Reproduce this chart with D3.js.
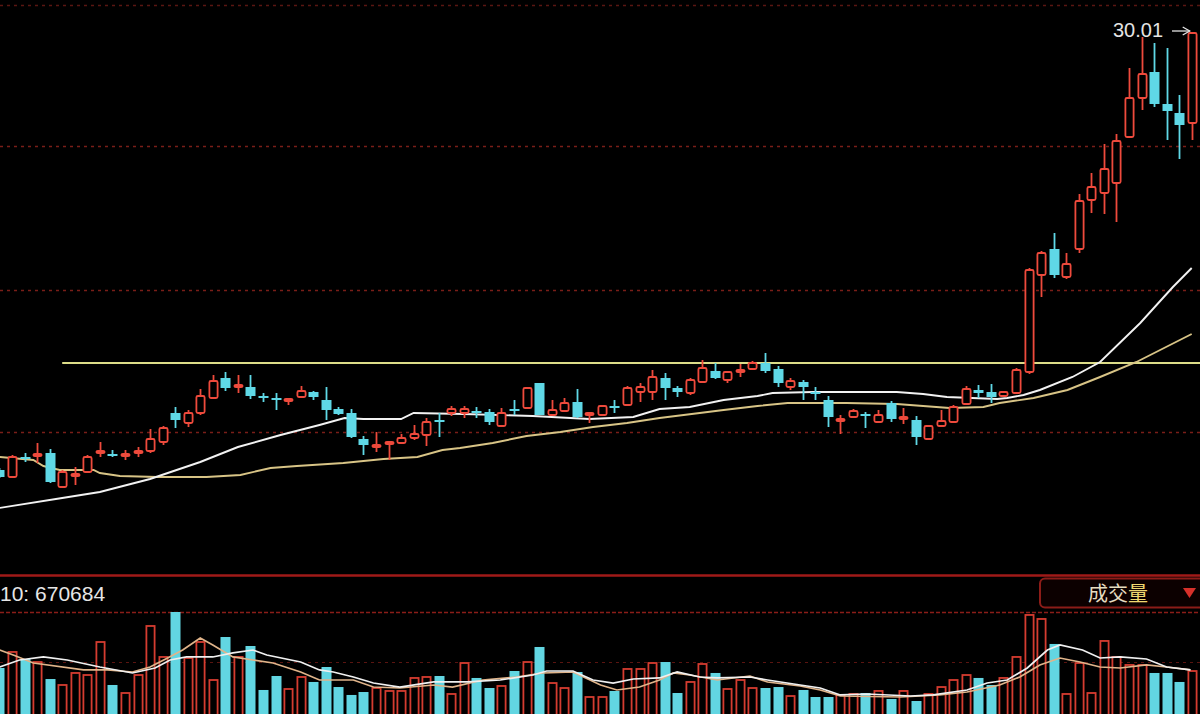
<!DOCTYPE html>
<html><head><meta charset="utf-8">
<script src="https://cdn.jsdelivr.net/npm/d3@7"></script>
<style>html,body{margin:0;padding:0;background:#000;overflow:hidden}</style>
</head><body>
<svg id="c" width="1200" height="714"></svg>
<script>
// candle index -1 .. 94
const firstIndex = -1;
const openP = [21.25,
 21.11,21.51,21.55,21.59,20.91,21.15,21.21,21.61,21.57,21.55,
 21.61,21.63,21.81,22.39,22.19,22.39,22.69,23.09,22.93,22.91,
 22.73,22.69,22.63,22.71,22.81,22.65,22.47,22.39,21.87,21.73,
 21.77,21.79,21.89,21.95,22.25,22.39,22.39,22.43,22.41,22.13,
 22.47,22.49,22.99,22.35,22.43,22.61,22.35,22.35,22.53,22.55,
 22.81,22.81,23.09,22.89,22.79,23.01,23.23,23.05,23.21,23.27,
 23.39,23.27,22.91,23.01,22.81,22.65,22.23,22.31,22.37,22.21,
 22.59,22.27,22.25,21.87,22.13,22.21,22.57,22.85,22.81,22.73,
 22.79,23.21,25.15,25.67,25.11,25.67,26.65,26.79,26.99,27.91,
 28.69,29.21,28.57,28.39,28.19];
const highP = [21.29,
 21.55,21.59,21.79,21.67,21.25,21.31,21.55,21.81,21.65,21.65,
 21.71,22.07,22.13,22.51,22.45,22.87,23.15,23.21,23.15,23.15,
 22.79,22.79,22.67,22.93,22.83,22.91,22.51,22.47,21.93,22.01,
 21.81,21.97,22.15,22.29,22.39,22.53,22.53,22.51,22.47,22.49,
 22.65,22.91,22.99,22.65,22.69,22.87,22.39,22.55,22.65,22.93,
 22.99,23.25,23.19,22.93,23.09,23.45,23.39,23.23,23.37,23.43,
 23.59,23.33,23.09,23.05,22.91,22.73,22.35,22.47,22.41,22.45,
 22.63,22.49,22.33,22.15,22.45,22.55,22.93,22.95,22.97,22.83,
 23.29,25.29,25.63,25.99,25.59,26.77,27.19,27.77,27.97,29.29,
 29.91,29.79,29.69,28.75,30.01];
const lowP = [21.09,
 21.09,21.41,21.39,20.99,20.89,20.95,21.19,21.51,21.51,21.45,
 21.51,21.59,21.75,22.09,22.11,22.35,22.67,22.83,22.79,22.67,
 22.61,22.45,22.55,22.69,22.65,22.25,22.35,21.89,21.55,21.61,
 21.45,21.77,21.85,21.73,21.91,22.33,22.29,22.29,22.15,22.11,
 22.35,22.47,22.35,22.33,22.41,22.29,22.19,22.33,22.39,22.53,
 22.61,22.65,22.65,22.71,22.75,22.99,23.07,22.99,23.11,23.25,
 23.19,22.91,22.85,22.65,22.65,22.11,21.97,22.29,22.09,22.19,
 22.21,22.17,21.75,21.85,22.11,22.19,22.55,22.69,22.59,22.71,
 22.77,23.17,24.71,25.09,25.07,25.59,26.39,26.37,26.21,27.89,
 28.45,28.51,27.85,27.47,27.85];
const closeP = [21.11,
 21.51,21.47,21.57,21.01,21.21,21.17,21.51,21.63,21.55,21.57,
 21.63,21.87,22.09,22.25,22.39,22.73,23.03,22.89,22.95,22.73,
 22.69,22.65,22.67,22.83,22.71,22.45,22.37,21.91,21.75,21.75,
 21.81,21.89,21.97,22.21,22.23,22.47,22.47,22.39,22.21,22.39,
 22.45,22.89,22.35,22.45,22.59,22.31,22.39,22.53,22.49,22.89,
 22.91,23.11,22.89,22.81,23.05,23.29,23.09,23.21,23.25,23.39,
 23.23,22.99,23.03,22.91,22.77,22.31,22.27,22.43,22.33,22.35,
 22.27,22.31,21.91,22.13,22.23,22.51,22.87,22.79,22.71,22.81,
 23.25,25.25,25.59,25.15,25.37,26.63,26.91,27.27,27.83,28.69,
 29.17,28.57,28.43,28.15,29.99];
const volume = [701000,
 945000,838000,792000,533000,442000,625000,594000,1097000,442000,320000,
 594000,1341000,869000,1554000,853000,1097000,518000,1173000,869000,1036000,
 366000,579000,381000,564000,488000,716000,411000,290000,335000,396000,
 351000,351000,549000,564000,579000,305000,777000,549000,396000,427000,
 655000,792000,1021000,472000,396000,640000,259000,259000,351000,686000,
 686000,777000,792000,320000,488000,762000,625000,381000,518000,396000,
 396000,411000,274000,366000,259000,259000,290000,305000,320000,351000,
 229000,351000,198000,305000,411000,518000,594000,549000,442000,549000,
 869000,1509000,1448000,1067000,305000,777000,320000,1113000,869000,747000,
 747000,625000,625000,488000,655000];

// moving averages: [candle index, value]
const priceMaWhite = [[-1,20.49],[4,20.69],[7,20.81],[11,21.07],[15,21.41],[18,21.71],[21.4,21.95],[24.5,22.15],[26.5,22.29],[28,22.27],[31,22.27],[32,22.39],[36,22.37],[41.5,22.33],[46,22.27],[49.5,22.31],[51.6,22.47],[54,22.51],[56.7,22.65],[59.4,22.73],[60.6,22.79],[63.8,22.81],[70.5,22.81],[72.6,22.77],[74.5,22.71],[78.5,22.67],[79.3,22.69],[80.6,22.75],[81.9,22.85],[84.5,23.11],[86.7,23.41],[89.9,24.19],[92.5,24.91],[94,25.29]];
const priceMaTan = [[-1,21.51],[1.7,21.45],[2.5,21.33],[3.8,21.25],[6.5,21.25],[7,21.19],[8.6,21.13],[11.6,21.11],[15.5,21.11],[18.2,21.15],[20.6,21.29],[22.7,21.33],[26.4,21.39],[29.6,21.47],[32.3,21.51],[34.3,21.65],[35.7,21.69],[38.3,21.79],[41,21.93],[43.7,22.01],[46.3,22.11],[49,22.19],[51.6,22.29],[54.8,22.39],[56.7,22.45],[59.4,22.53],[61.8,22.59],[66.5,22.59],[70.5,22.57],[72.6,22.53],[74.7,22.49],[77.4,22.51],[78.7,22.59],[81.4,22.69],[84.1,22.85],[86.7,23.11],[89.6,23.41],[94,23.97]];
const volMaWhite = [[-1,716000],[0.6,823000],[2.5,869000],[4.4,823000],[7,716000],[9.6,625000],[11.4,701000],[12.6,823000],[13.9,869000],[16,869000],[17.6,930000],[19.2,975000],[20.3,899000],[23,792000],[24.5,671000],[25.6,640000],[27.2,564000],[28.8,472000],[30.9,411000],[33.6,488000],[36.3,488000],[38.9,518000],[41.5,594000],[42.6,655000],[44.7,655000],[46.3,518000],[47.9,472000],[49.5,533000],[51.6,549000],[53,640000],[54.8,564000],[56.2,549000],[58.8,564000],[60.2,518000],[62.8,442000],[64.4,396000],[66,290000],[68.1,305000],[71.6,274000],[73.4,290000],[76.1,366000],[77.7,472000],[79.3,518000],[80.9,701000],[82.5,975000],[83.5,1052000],[85.3,975000],[86.7,853000],[88.3,869000],[90.4,838000],[92,716000],[93.9,671000]];
const volMaTan = [[-1,975000],[0.1,899000],[1.7,777000],[5.7,671000],[7.6,671000],[9.6,640000],[11,716000],[12.4,853000],[13.6,975000],[15,1158000],[16,1052000],[17.6,869000],[19.2,823000],[20.8,777000],[23,640000],[24.5,518000],[27.2,518000],[28.8,411000],[30.9,396000],[33.6,442000],[35.1,411000],[37.5,518000],[40.2,564000],[42.3,625000],[44.7,640000],[46.9,442000],[48.2,366000],[50,411000],[51.6,518000],[52.7,625000],[54,594000],[56.2,518000],[58.8,579000],[60.2,488000],[62.8,427000],[64.4,366000],[66,274000],[70.8,259000],[73.9,290000],[76.1,335000],[78.7,442000],[80.3,564000],[81.9,747000],[83.5,853000],[85.1,792000],[86.7,716000],[88.3,701000],[90.4,747000],[92,716000],[93.9,671000]];

const gridPrices = [30.55, 27.73, 24.85, 22.01];
const resistancePrice = 23.39;
const resistanceStart = 4;
const maxLabel = "30.01";
const volLabel = "10: 670684";
const panelTitle = "成交量";

const W = 1200, H = 714;
const svg = d3.select("#c");
svg.append("rect").attr("width", W).attr("height", H).attr("fill", "#000");

const x = d3.scaleLinear().domain([0, 94]).range([12, 1191.7]);
const y = d3.scaleLinear().domain([19.15, 30.65]).range([575, 0]);
const vy = d3.scaleLinear().domain([0, 1554000]).range([714, 612]);

const RED = "#ee4a3c", CYAN = "#5fd8e6";
const VRED = "#d53c30", VCYAN = "#62d6e2";

const defs = svg.append("defs");
defs.append("clipPath").attr("id", "mainClip").append("rect").attr("x", 0).attr("y", 0).attr("width", W).attr("height", 574);
defs.append("clipPath").attr("id", "volClip").append("rect").attr("x", 0).attr("y", 577).attr("width", W).attr("height", H - 577);

const main = svg.append("g").attr("clip-path", "url(#mainClip)");
// grid
main.selectAll(".grid").data(gridPrices).enter().append("line")
  .attr("x1", 0).attr("x2", W).attr("y1", d => Math.round(y(d)) + 0.5).attr("y2", d => Math.round(y(d)) + 0.5)
  .attr("stroke", (d, k) => k === 0 ? "#5a1612" : "#7a1e18").attr("stroke-width", 1.6).attr("stroke-dasharray", "3,4");
// resistance line
main.append("line").attr("x1", x(resistanceStart)).attr("x2", W)
  .attr("y1", y(resistancePrice)).attr("y2", y(resistancePrice))
  .attr("stroke", "#dcdc88").attr("stroke-width", 2);

const data = openP.map((o, k) => ({ i: k + firstIndex, o, h: highP[k], l: lowP[k], c: closeP[k], v: volume[k] }));
const bw = 10;

// MA lines (price)
const pl = d3.line().x(d => x(d[0])).y(d => y(d[1])).curve(d3.curveLinear);
main.append("path").attr("d", pl(priceMaTan)).attr("fill", "none").attr("stroke", "#d8c486").attr("stroke-width", 1.9);
main.append("path").attr("d", pl(priceMaWhite)).attr("fill", "none").attr("stroke", "#f2f2f2").attr("stroke-width", 1.9);

// candles
const cg = main.append("g");
data.forEach(d => {
  const up = d.c >= d.o;
  const col = up ? RED : CYAN;
  const cx = Math.round(x(d.i)) + 0.5;
  const top = y(Math.max(d.o, d.c)), bot = y(Math.min(d.o, d.c));
  const bh = Math.max(2, bot - top);
  cg.append("line").attr("x1", cx).attr("x2", cx).attr("y1", y(d.h)).attr("y2", top)
    .attr("stroke", col).attr("stroke-width", 1.8);
  cg.append("line").attr("x1", cx).attr("x2", cx).attr("y1", top + bh).attr("y2", y(d.l))
    .attr("stroke", col).attr("stroke-width", 1.8);
  if (up) {
    cg.append("rect").attr("x", cx - bw / 2 + 0.9).attr("y", top).attr("width", bw - 1.8).attr("height", Math.max(1, bh))
      .attr("rx", 1.5).attr("fill", "#000").attr("stroke", col).attr("stroke-width", 1.8);
  } else {
    cg.append("rect").attr("x", cx - bw / 2).attr("y", top).attr("width", bw).attr("height", bh)
      .attr("fill", col);
  }
});

// max label
const top94 = data[data.length - 1];
svg.append("text").attr("x", 1113).attr("y", y(30.01) + 5).text(maxLabel)
  .attr("font-family", "Liberation Sans, Arial, sans-serif").attr("font-size", 20).attr("fill", "#e4e4e4");
svg.append("line").attr("x1", 1172).attr("x2", x(top94.i) - 2).attr("y1", y(30.01) - 1).attr("y2", y(30.01) - 1)
  .attr("stroke", "#e4e4e4").attr("stroke-width", 1.3);
svg.append("path").attr("d", `M${x(top94.i) - 9},${y(30.01) - 5} L${x(top94.i) - 2},${y(30.01) - 1} L${x(top94.i) - 9},${y(30.01) + 3}`)
  .attr("fill", "none").attr("stroke", "#e4e4e4").attr("stroke-width", 1.3);

// panel separator
svg.append("line").attr("x1", 0).attr("x2", W).attr("y1", 575.5).attr("y2", 575.5).attr("stroke", "#a01a18").attr("stroke-width", 2.5);

// volume panel
const vol = svg.append("g").attr("clip-path", "url(#volClip)");
vol.append("line").attr("x1", 0).attr("x2", W).attr("y1", 612.5).attr("y2", 612.5).attr("stroke", "#8a1d18").attr("stroke-width", 1.4).attr("stroke-dasharray", "4,2");
vol.append("line").attr("x1", 0).attr("x2", W).attr("y1", 662.5).attr("y2", 662.5).attr("stroke", "#5a1410").attr("stroke-width", 1.2).attr("stroke-dasharray", "3,4");

data.forEach(d => {
  const up = d.c >= d.o;
  const cx = Math.round(x(d.i)) + 0.5;
  if (up) {
    vol.append("rect").attr("x", cx - bw / 2 + 0.9).attr("y", vy(d.v)).attr("width", bw - 1.8).attr("height", 714 - vy(d.v) + 5)
      .attr("fill", "#000").attr("stroke", VRED).attr("stroke-width", 1.8);
  } else {
    vol.append("rect").attr("x", cx - bw / 2).attr("y", vy(d.v)).attr("width", bw).attr("height", 714 - vy(d.v) + 5)
      .attr("fill", VCYAN);
  }
});
const vl = d3.line().x(d => x(d[0])).y(d => vy(d[1])).curve(d3.curveLinear);
vol.append("path").attr("d", vl(volMaTan)).attr("fill", "none").attr("stroke", "#e0b48a").attr("stroke-width", 1.7);
vol.append("path").attr("d", vl(volMaWhite)).attr("fill", "none").attr("stroke", "#f0f0f0").attr("stroke-width", 1.7);

svg.append("text").attr("x", 0).attr("y", 601).text(volLabel)
  .attr("font-family", "Liberation Sans, Arial, sans-serif").attr("font-size", 21).attr("fill", "#e6e6e6");

// title box
svg.append("rect").attr("x", 1040).attr("y", 578.5).attr("width", 175).attr("height", 29).attr("rx", 5)
  .attr("fill", "#0c0000").attr("stroke", "#8c1c18").attr("stroke-width", 2);
const tt = svg.append("text").attr("x", 1088).attr("y", 601)
  .attr("font-family", "Noto Sans CJK SC, sans-serif").attr("font-size", 20);
tt.append("tspan").text(panelTitle.slice(0, 2)).attr("fill", "#e6dcc0");
tt.append("tspan").text(panelTitle.slice(2)).attr("fill", "#f0d870");
svg.append("path").attr("d", "M1183,588 L1196,588 L1189.5,598 Z").attr("fill", "#d8302a");
</script>
</body></html>
